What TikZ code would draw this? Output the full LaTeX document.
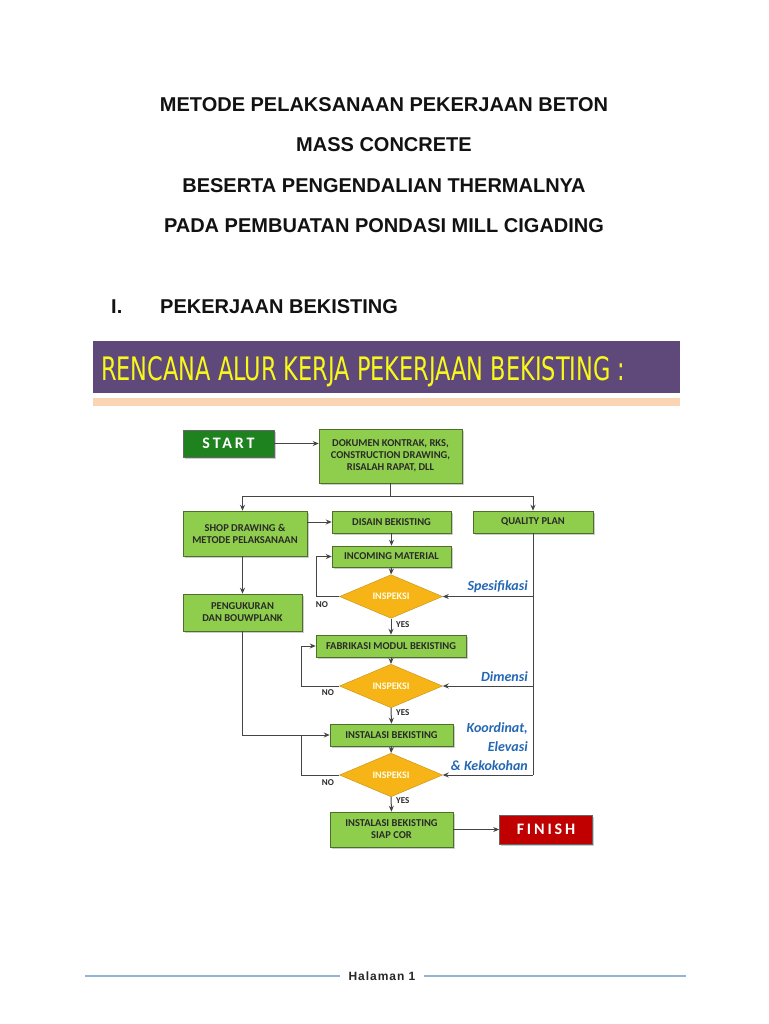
\documentclass[tikz,border=0pt]{standalone}
\usepackage{fontspec}
\setmainfont{Liberation Sans}
\newfontfamily\carlito{Carlito}
\newfontfamily\carlitosp{Carlito}[LetterSpace=18]
\newfontfamily\dejavu{DejaVu Sans}
\newfontfamily\footfont{Liberation Sans}[LetterSpace=8]
\usetikzlibrary{arrows.meta,shapes.geometric,shadows}
\definecolor{purp}{HTML}{5F497A}
\definecolor{peach}{HTML}{FBD4B4}
\definecolor{banneryellow}{HTML}{F8F81A}
\definecolor{lgreen}{HTML}{8FCE4C}
\definecolor{dgreen}{HTML}{1E821E}
\definecolor{fred}{HTML}{C00000}
\definecolor{dorange}{HTML}{F6B416}
\definecolor{boxedge}{HTML}{4E6E2E}
\definecolor{boxtext}{HTML}{2A2A2A}
\definecolor{conncol}{HTML}{454545}
\definecolor{qblue}{HTML}{2468B4}
\definecolor{footblue}{HTML}{95B3D7}
\begin{document}
\begin{tikzpicture}[x=1pt,y=-1pt,
  title/.style={inner sep=0pt, font=\fontsize{20}{24}\selectfont\bfseries, text=black!93},
  gbox/.style={rectangle, fill=lgreen, draw=boxedge, line width=0.5pt, inner sep=1pt, align=center,
    font=\carlito\bfseries\fontsize{10.5}{12}\selectfont, text=boxtext,
    drop shadow={opacity=0.4, shadow xshift=1.5pt, shadow yshift=-1.5pt}},
  termbox/.style={rectangle, draw=black!60, line width=0.5pt, inner sep=0pt, text=white,
    font=\carlitosp\bfseries\fontsize{16}{18}\selectfont,
    drop shadow={opacity=0.4, shadow xshift=1.5pt, shadow yshift=-1.5pt}},
  decision/.style={diamond, fill=dorange, draw=dorange!80!black, line width=0.4pt, inner sep=0pt,
    minimum width=103pt, minimum height=32pt, text=white!90!yellow,
    font=\carlito\bfseries\fontsize{10}{11}\selectfont},
  conn/.style={draw=conncol, line width=1pt},
  arr/.style={conn, -{Stealth[length=6pt,width=5pt]}},
  lbl/.style={inner sep=0pt, font=\carlito\bfseries\fontsize{9}{10}\selectfont, text=boxtext},
  qlab/.style={inner sep=0pt, font=\carlito\bfseries\itshape\fontsize{14}{19}\selectfont, text=qblue, align=right},
]
\useasboundingbox (0,0) rectangle (768,1024);
\fill[white] (0,0) rectangle (768,1024);

% Titles
\node[title] (t1) at (384,105) {METODE PELAKSANAAN PEKERJAAN BETON};
\node[title] (t2) at (384,145) {MASS CONCRETE};
\node[title] (t3) at (384,186) {BESERTA PENGENDALIAN THERMALNYA};
\node[title] (t4) at (384,226) {PADA PEMBUATAN PONDASI MILL CIGADING};
\node[title, anchor=base west] (h1) at (111,313) {I.};
\node[title, anchor=base west] (h2) at (160,313) {PEKERJAAN BEKISTING};

% Banner
\node[fill=purp, minimum width=587pt, minimum height=52pt, inner sep=0pt] (banner) at (386.5,367) {};
\node[anchor=base west, inner sep=0pt, text=banneryellow] (bantext) at (101,380)
  {\resizebox{524pt}{24pt}{\dejavu RENCANA ALUR KERJA PEKERJAAN BEKISTING :}};
\node[fill=peach, minimum width=587pt, minimum height=8pt, inner sep=0pt] (peachbar) at (386.5,402) {};

% Flowchart nodes
\node[termbox, fill=dgreen, minimum width=91pt, minimum height=27pt] (start) at (228.5,443.5) {START};
\node[gbox, minimum width=143pt, minimum height=54pt] (doc) at (390.5,456)
  {DOKUMEN KONTRAK, RKS,\\CONSTRUCTION DRAWING,\\RISALAH RAPAT, DLL};
\node[gbox, minimum width=124pt, minimum height=45pt] (shop) at (245,533.5) {SHOP DRAWING \&\\METODE PELAKSANAAN};
\node[gbox, minimum width=119pt, minimum height=22pt] (disain) at (391.5,522) {DISAIN BEKISTING};
\node[gbox, minimum width=120pt, minimum height=22pt] (qp) at (533,522) {QUALITY PLAN};
\node[gbox, minimum width=119pt, minimum height=21pt] (inc) at (391.5,556.5) {INCOMING MATERIAL};
\node[decision] (d1) at (391,596.5) {INSPEKSI};
\node[gbox, minimum width=150pt, minimum height=22pt] (fab) at (391,646) {FABRIKASI MODUL BEKISTING};
\node[gbox, minimum width=119pt, minimum height=37pt] (pen) at (242.5,612.5) {PENGUKURAN\\DAN BOUWPLANK};
\node[decision] (d2) at (391,686) {INSPEKSI};
\node[gbox, minimum width=123pt, minimum height=22pt] (inst) at (391.5,735) {INSTALASI BEKISTING};
\node[decision] (d3) at (391,775) {INSPEKSI};
\node[gbox, minimum width=123pt, minimum height=35pt] (siap) at (391.5,829.5) {INSTALASI BEKISTING\\SIAP COR};
\node[termbox, fill=fred, minimum width=93pt, minimum height=29pt] (finish) at (546,829.5) {FINISH};

% helper coordinates
\coordinate (j) at (390.5,496);
\coordinate (n1) at (316,596.5);
\coordinate (n2) at (301,686);

% Connectors
\draw[arr] (start.east) -- (start.east -| doc.west);
\draw[conn] (doc.south) -- (j);
\draw[arr] (j) -| (pen.north |- shop.north);
\draw[arr] (j) -| (qp.north);
\draw[arr] (shop.east |- disain.west) -- (disain.west);
\draw[arr] (disain.south) -- (inc.north);
\draw[arr] (inc.south) -- (d1.north);
\draw[arr] (d1.south) -- (fab.north);
\draw[arr] (fab.south) -- (d2.north);
\draw[arr] (d2.south) -- (inst.north);
\draw[arr] (inst.south) -- (d3.north);
\draw[arr] (d3.south) -- (siap.north);
\draw[arr] (siap.east) -- (siap.east -| finish.west);
\draw[arr] (d1.west) -- (n1) |- (inc.west);
\draw[arr] (d2.west) -- (n2) |- (fab.west);
\draw[conn] (d3.west) -- (d3.west -| n2) -- (n2 |- inst.west);
\draw[arr] (shop.south -| pen.north) -- (pen.north);
\draw[arr] (pen.south) |- (inst.west);
\draw[conn] (qp.south) -- (qp.south |- d3.east);
\draw[arr] (qp.south |- d1.east) -- (d1.east);
\draw[arr] (qp.south |- d2.east) -- (d2.east);
\draw[arr] (qp.south |- d3.east) -- (d3.east);

% Labels
\node[lbl] (no1) at (322,605) {NO};
\node[lbl] (no2) at (328,693) {NO};
\node[lbl] (no3) at (328,783) {NO};
\node[lbl, anchor=west] (yes1) at (396,625) {YES};
\node[lbl, anchor=west] (yes2) at (396,713) {YES};
\node[lbl, anchor=west] (yes3) at (396,801) {YES};
\node[qlab, anchor=east] (q1) at (528,587) {Spesifikasi};
\node[qlab, anchor=east] (q2) at (528,677) {Dimensi};
\node[qlab, anchor=east] (q3) at (528,747) {Koordinat,\\Elevasi\\\& Kekokohan};

% Footer
\node[inner sep=0pt, font=\footfont\bfseries\fontsize{12}{13}\selectfont, text=black!85] (hal) at (382,976) {Halaman 1};
\coordinate (fl1) at (85,976);
\coordinate (fr2) at (686,976);
\draw[draw=footblue, line width=1.2pt] (fl1) -- ([xshift=-8pt]hal.west);
\draw[draw=footblue, line width=1.2pt] ([xshift=8pt]hal.east) -- (fr2);
\end{tikzpicture}
\end{document}
